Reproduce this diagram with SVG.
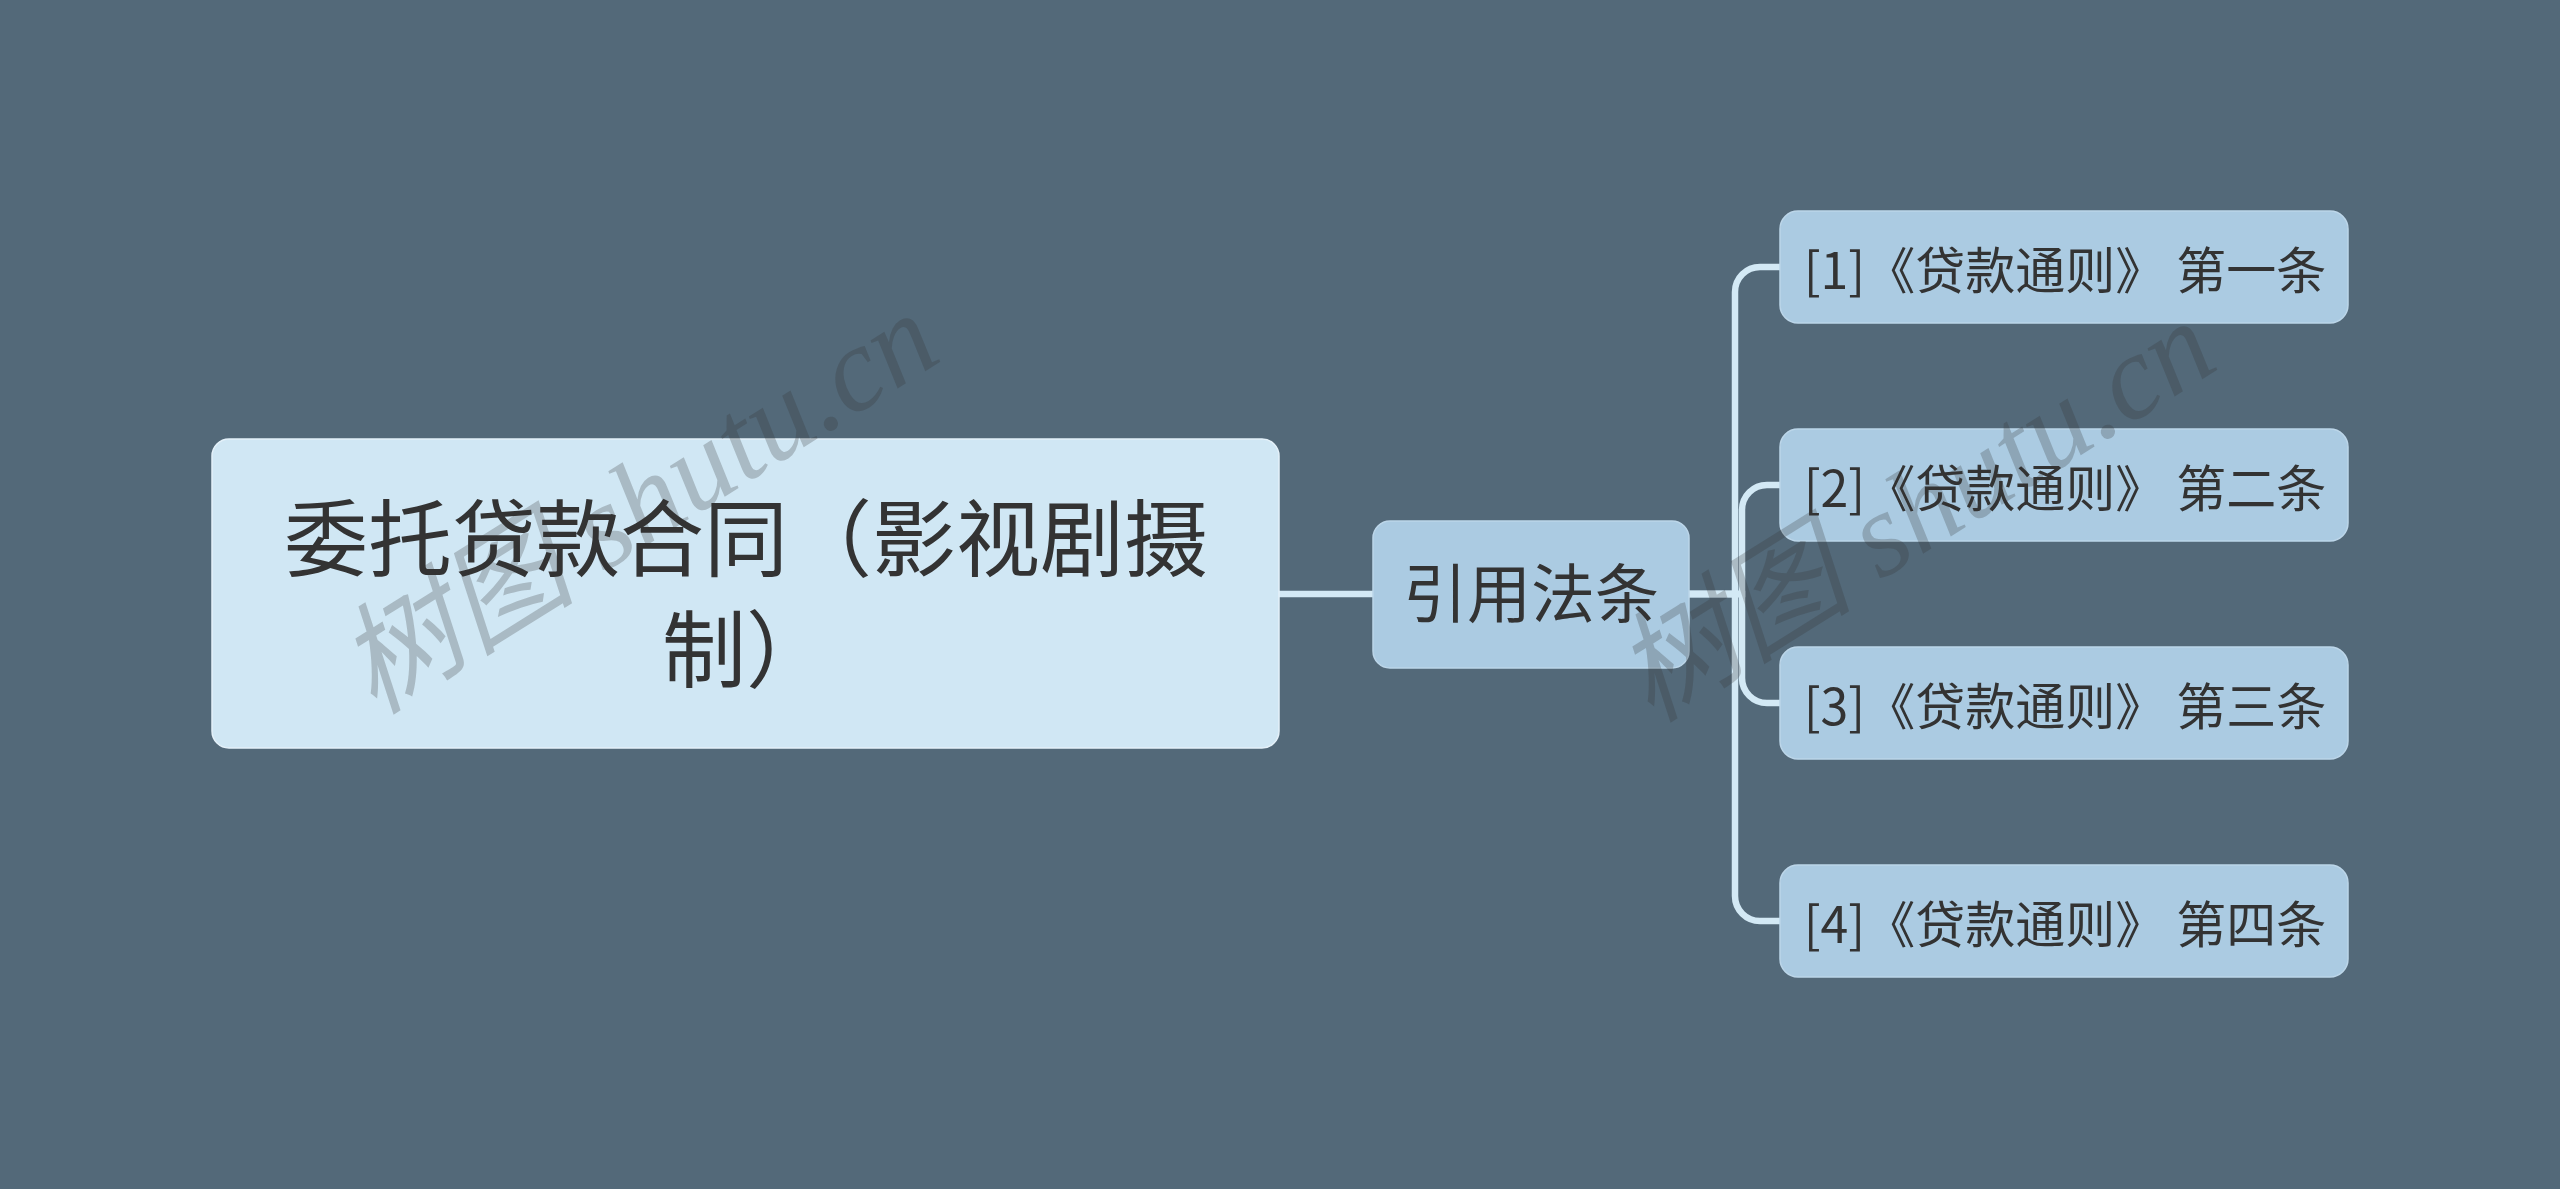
<svg xmlns="http://www.w3.org/2000/svg" width="2560" height="1189" viewBox="0 0 2560 1189">
  <style>
    .bg { fill: #536979; }
    .root { fill: #d0e7f4; stroke: #e4f1f9; stroke-width: 1.5; }
    .sub { fill: #abcbe2; stroke: #bcd6e9; stroke-width: 1.5; }
    .t { font-family: "Noto Sans CJK SC", "Noto Sans", sans-serif; fill: #333333; }
    .conn { fill: none; stroke: #d3e9f5; stroke-width: 6.5; stroke-linecap: butt; }
    .wm { font-family: "Liberation Serif", "Noto Sans CJK SC", serif; font-style: italic; fill: #333333; fill-opacity: 0.25; }
  </style>
  <rect class="bg" x="0" y="0" width="2560" height="1189"/>

  <g id="connectors">
    <path class="conn" d="M1279 594 H1373"/>
    <path class="conn" d="M1689 594 H1735 V292 A25 25 0 0 1 1760 267 H1781"/>
    <path class="conn" d="M1689 594 H1742 V510 A25 25 0 0 1 1767 485 H1781"/>
    <path class="conn" d="M1689 594 H1742 V678 A25 25 0 0 0 1767 703 H1781"/>
    <path class="conn" d="M1689 594 H1735 V896 A25 25 0 0 0 1760 921 H1781"/>
  </g>

  <g id="node-root">
    <rect class="root" x="212" y="439" width="1067" height="309" rx="17"/>
    <text class="t" x="746" y="570" font-size="84" text-anchor="middle">委托贷款合同（影视剧摄</text>
    <text class="t" x="746" y="681" font-size="84" text-anchor="middle">制）</text>
  </g>

  <g id="node-mid">
    <rect class="sub" x="1373" y="521" width="316" height="147" rx="17"/>
    <text class="t" x="1531" y="617" font-size="64" text-anchor="middle">引用法条</text>
  </g>

  <g id="node-c1">
    <rect class="sub" x="1780" y="211" width="568" height="112" rx="18"/>
    <text class="t" x="2065" y="289" font-size="50" text-anchor="middle">[1]《贷款通则》 第一条</text>
  </g>
  <g id="node-c2">
    <rect class="sub" x="1780" y="429" width="568" height="112" rx="18"/>
    <text class="t" x="2065" y="507" font-size="50" text-anchor="middle">[2]《贷款通则》 第二条</text>
  </g>
  <g id="node-c3">
    <rect class="sub" x="1780" y="647" width="568" height="112" rx="18"/>
    <text class="t" x="2065" y="725" font-size="50" text-anchor="middle">[3]《贷款通则》 第三条</text>
  </g>
  <g id="node-c4">
    <rect class="sub" x="1780" y="865" width="568" height="112" rx="18"/>
    <text class="t" x="2065" y="943" font-size="50" text-anchor="middle">[4]《贷款通则》 第四条</text>
  </g>

  <g id="watermarks">
    <text class="wm" x="638" y="503" font-size="120" text-anchor="middle" dominant-baseline="central" transform="rotate(-32 638 503)">树图 shutu.cn</text>
    <text class="wm" x="1915" y="511" font-size="120" text-anchor="middle" dominant-baseline="central" transform="rotate(-32 1915 511)">树图 shutu.cn</text>
  </g>
</svg>
